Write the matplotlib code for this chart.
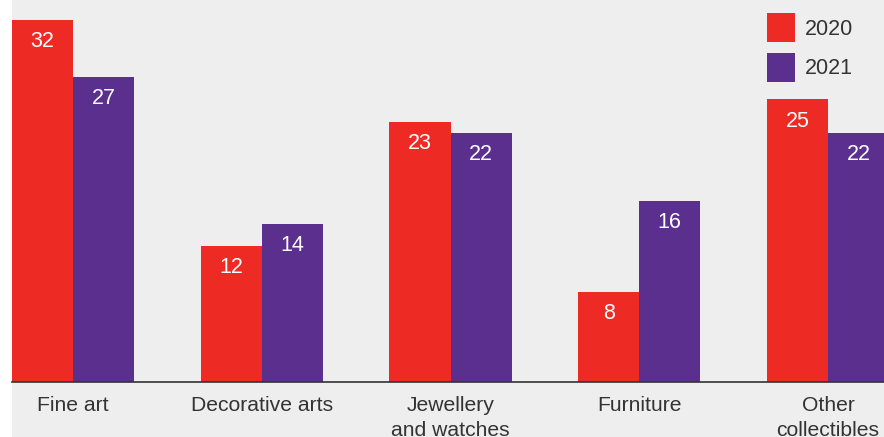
import matplotlib

matplotlib.use('Agg')
import matplotlib.pyplot as plt
from matplotlib.patches import Rectangle
import numpy as np

plt.rcParams['font.family'] = ['Liberation Sans', 'DejaVu Sans']

categories = ['Fine art', 'Decorative arts', 'Jewellery\nand watches', 'Furniture', 'Other\ncollectibles']
years = ['2020', '2021']
values_2020 = [32, 12, 23, 8, 25]
values_2021 = [27, 14, 22, 16, 22]

RED = '#ee2a24'
PURPLE = '#5b2f8e'
BG = '#eeeeee'

fig = plt.figure(figsize=(8.84, 4.37), dpi=100)
fig.patch.set_facecolor('white')
# grey panel behind everything except the thin white strip on the left
fig.patches.append(Rectangle((12 / 884, 0), 1, 1, transform=fig.transFigure,
                             facecolor=BG, edgecolor='none', zorder=-10))

ax = fig.add_axes([12 / 884, 55 / 437, 1 - 12 / 884, 1 - 55 / 437])
ax.set_facecolor('none')
ax.set_zorder(5)

x = np.arange(len(categories))
w = 0.3232
b1 = ax.bar(x - w / 2, values_2020, width=w, color=RED, label=years[0])
b2 = ax.bar(x + w / 2, values_2021, width=w, color=PURPLE, label=years[1])

for bars in (b1, b2):
    for rect in bars:
        h = rect.get_height()
        ax.annotate(f'{h:g}', (rect.get_x() + rect.get_width() / 2, h),
                    xytext=(0, -8), textcoords='offset points',
                    ha='center', va='top', color='white', fontsize=15.5)

ax.set_xlim(-w, (884 - 73) / 188.75)
ax.set_ylim(0, 33.8)
ax.set_yticks([])
ax.set_xticks(x)
ax.set_xticklabels(categories, fontsize=15.2, color='#333333', linespacing=1.4)
ax.tick_params(axis='x', length=0, pad=10)
for side in ('left', 'right', 'top'):
    ax.spines[side].set_visible(False)
ax.spines['bottom'].set_color('#333333')
ax.spines['bottom'].set_linewidth(1.2)

leg = fig.legend(handles=[b1, b2], labels=years, loc='upper left',
                 bbox_to_anchor=(767 / 884, 1 - 13 / 437), frameon=False,
                 fontsize=15.5, handlelength=1.3, handleheight=1.7,
                 handletextpad=0.45, labelspacing=0.5, borderpad=0, borderaxespad=0,
                 labelcolor='#333333')
leg.set_zorder(6)

fig.savefig('out.png', dpi=100, facecolor=fig.get_facecolor())
